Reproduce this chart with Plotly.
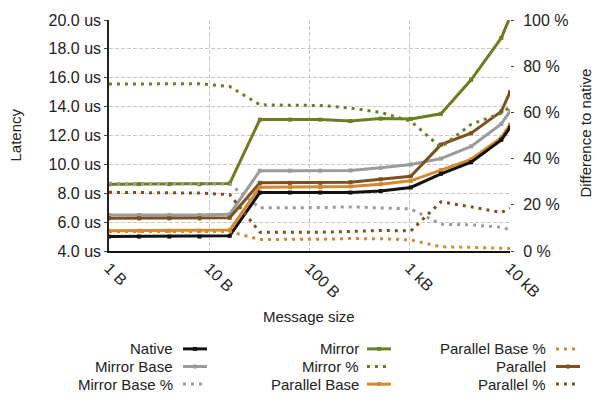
import math
import plotly.graph_objects as go

# Message sizes in bytes
sizes = [1, 2, 4, 8, 16, 32, 64, 128, 256, 512, 1024, 2048, 4096, 8192, 10000]

# Latency in microseconds
native = [5.0, 5.0, 5.0, 5.0, 5.05, 8.05, 8.05, 8.05, 8.05, 8.15, 8.4, 9.35, 10.15, 11.7, 12.55]
mirror_base = [6.49, 6.49, 6.49, 6.49, 6.55, 9.56, 9.56, 9.56, 9.58, 9.76, 9.99, 10.4, 11.25, 12.8, 13.7]
mirror = [8.63, 8.63, 8.63, 8.63, 8.68, 13.1, 13.1, 13.1, 13.0, 13.17, 13.15, 13.5, 15.86, 18.76, 20.2]
parallel_base = [5.4, 5.4, 5.4, 5.4, 5.45, 8.42, 8.42, 8.42, 8.47, 8.63, 8.86, 9.6, 10.35, 11.85, 12.75]
parallel = [6.26, 6.26, 6.26, 6.26, 6.3, 8.72, 8.72, 8.72, 8.77, 8.97, 9.18, 11.37, 12.16, 13.67, 15.0]

# Overhead relative to native, in percent
mirror_base_pct = [29.3, 29.3, 29.3, 29.3, 29.0, 18.7, 18.7, 18.8, 19.1, 18.5, 18.2, 11.6, 11.3, 10.3, 9.2]
mirror_pct = [72.3, 72.3, 72.3, 72.4, 71.2, 63.3, 63.1, 63.0, 61.9, 60.0, 56.2, 44.9, 54.8, 59.7, 62.3]
parallel_base_pct = [8.4, 8.4, 8.4, 8.4, 8.4, 5.0, 5.0, 5.1, 5.4, 5.3, 4.8, 1.8, 1.6, 1.4, 1.1]
parallel_pct = [25.4, 25.4, 25.4, 25.1, 24.4, 8.1, 8.1, 8.1, 8.5, 8.9, 8.7, 21.3, 19.1, 16.7, 18.5]

# Axis ticks
x_tickvals = [1, 10, 100, 1000, 10000]
x_ticktext = ["1 B", "10 B", "100 B", "1 kB", "10 kB"]
y_tickvals = [4, 6, 8, 10, 12, 14, 16, 18, 20]
y_ticktext = ["4.0 us", "6.0 us", "8.0 us", "10.0 us", "12.0 us", "14.0 us", "16.0 us", "18.0 us", "20.0 us"]
y2_tickvals = [0, 20, 40, 60, 80, 100]
y2_ticktext = ["0 %", "20 %", "40 %", "60 %", "80 %", "100 %"]

BLACK = "#111111"
GRAY = "#9b9b9b"
GREEN = "#6a7f22"
ORANGE = "#d4882f"
BROWN = "#7c5021"

FONT = "Liberation Sans, Arial, Helvetica, sans-serif"
TEXT = "#222222"
DOT = "3px,5px"
TICKFONT = dict(family=FONT, size=16, color=TEXT)

fig = go.Figure()


def solid(y, color, name):
    fig.add_trace(go.Scatter(
        x=sizes, y=y, name=name, mode="lines+markers",
        line=dict(color=color, width=3),
        marker=dict(color=color, size=4, symbol="square"),
        yaxis="y", showlegend=False,
    ))


def dotted(y, color, name):
    fig.add_trace(go.Scatter(
        x=sizes, y=y, name=name, mode="lines",
        line=dict(color=color, width=3, dash=DOT),
        yaxis="y2", showlegend=False,
    ))


solid(mirror, GREEN, "Mirror")
solid(mirror_base, GRAY, "Mirror Base")
solid(parallel, BROWN, "Parallel")
solid(parallel_base, ORANGE, "Parallel Base")
solid(native, BLACK, "Native")

dotted(mirror_pct, GREEN, "Mirror %")
dotted(mirror_base_pct, GRAY, "Mirror Base %")
dotted(parallel_pct, BROWN, "Parallel %")
dotted(parallel_base_pct, ORANGE, "Parallel Base %")

# Plot area in pixels
L, R, T, B = 109, 510, 15, 251


def px(xp):
    return (xp - L) / (R - L)


def py(yp):
    return (B - yp) / (B - T)


# Custom legend: label on the left, line sample on the right
legend_items = [
    ("Native", BLACK, False), ("Mirror Base", GRAY, False), ("Mirror Base %", GRAY, True),
    ("Mirror", GREEN, False), ("Mirror %", GREEN, True), ("Parallel Base", ORANGE, False),
    ("Parallel Base %", ORANGE, True), ("Parallel", BROWN, False), ("Parallel %", BROWN, True),
]
col_text_right = [175, 361, 548]
col_sym_x0 = [183, 367, 556]
row_y = [351, 369, 387]
sym_len = 24

shapes = []
annotations = []
for i, (name, color, is_dot) in enumerate(legend_items):
    c, r = divmod(i, 3)
    yy = py(row_y[r])
    annotations.append(dict(
        x=px(col_text_right[c]), y=yy, xref="paper", yref="paper",
        text=name, showarrow=False, xanchor="right", yanchor="middle",
        font=dict(family=FONT, size=15, color=TEXT),
    ))
    x0 = col_sym_x0[c]
    shapes.append(dict(
        type="line", xref="paper", yref="paper",
        x0=px(x0), x1=px(x0 + sym_len), y0=yy, y1=yy,
        line=dict(color=color, width=3, dash=DOT if is_dot else "solid"),
    ))
    if not is_dot:
        mx = x0 + sym_len / 2
        shapes.append(dict(
            type="rect", xref="paper", yref="paper",
            x0=px(mx - 2), x1=px(mx + 2), y0=py(row_y[r] + 2), y1=py(row_y[r] - 2),
            line=dict(width=0), fillcolor=color,
        ))

# Axis titles
annotations += [
    dict(x=px(15), y=py(133), xref="paper", yref="paper", text="Latency",
         textangle=-90, showarrow=False, xanchor="center", yanchor="middle",
         font=dict(family=FONT, size=15, color=TEXT)),
    dict(x=px(586), y=py(131), xref="paper", yref="paper", text="Difference to native",
         textangle=-90, showarrow=False, xanchor="center", yanchor="middle",
         font=dict(family=FONT, size=15, color=TEXT)),
    dict(x=px(309), y=py(318), xref="paper", yref="paper", text="Message size",
         showarrow=False, xanchor="center", yanchor="middle",
         font=dict(family=FONT, size=15, color=TEXT)),
]

grid = dict(gridcolor="#c8c8c8", gridwidth=1, griddash="4px,2px")

fig.update_layout(
    width=595, height=403,
    margin=dict(l=L, r=595 - R, t=T, b=403 - B),
    paper_bgcolor="white", plot_bgcolor="white",
    font=dict(family=FONT, size=15, color=TEXT),
    showlegend=False,
    xaxis=dict(
        type="log", range=[0, math.log10(10000)],
        tickvals=x_tickvals, ticktext=x_ticktext, tickangle=45, tickfont=TICKFONT,
        showgrid=True, **grid,
        showline=True, linecolor="#111", linewidth=1.5,
        ticks="", zeroline=False,
    ),
    yaxis=dict(
        range=[4, 20], tickvals=y_tickvals, ticktext=y_ticktext, tickfont=TICKFONT,
        showgrid=True, **grid,
        showline=True, linecolor="#222", linewidth=1.5,
        ticks="outside", ticklen=3, tickcolor="#444", zeroline=False,
    ),
    yaxis2=dict(
        overlaying="y", side="right", range=[0, 100],
        tickvals=y2_tickvals, ticktext=y2_ticktext, tickfont=TICKFONT,
        showgrid=False, showline=False, zeroline=False,
        ticks="outside", ticklen=3, tickcolor="#444", ticklabelstandoff=6,
    ),
    shapes=shapes,
    annotations=annotations,
)

fig.write_html("out.html")
